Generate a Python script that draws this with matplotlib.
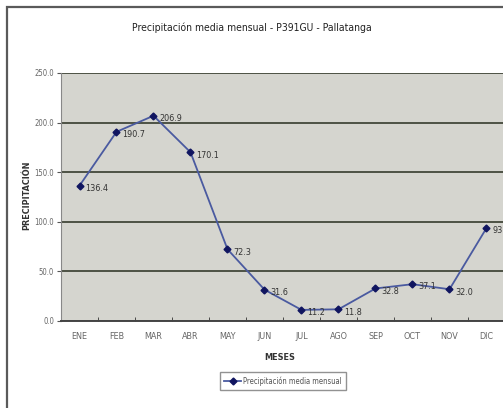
import matplotlib
matplotlib.use("Agg")
import matplotlib.pyplot as plt
from matplotlib.patches import Rectangle
from matplotlib.lines import Line2D

months = ["ENE", "FEB", "MAR", "ABR", "MAY", "JUN", "JUL", "AGO", "SEP", "OCT", "NOV", "DIC"]
precip = [136.4, 190.7, 206.9, 170.1, 72.3, 31.6, 11.2, 11.8, 32.8, 37.1, 32.0, 93.7]
yticks = [0, 50, 100, 150, 200, 250]
title = "Precipitación media mensual - P391GU - Pallatanga"
series_name = "Precipitación media mensual"

plt.rcParams["font.family"] = ["DejaVu Sans"]
plt.rcParams["font.stretch"] = "condensed"

W, H = 503, 408
fig = plt.figure(figsize=(W / 100, H / 100), dpi=100)
fig.patch.set_facecolor("white")

# outer chart border (cropped on right and bottom)
fig.add_artist(Rectangle((7 / W, -0.05), 1.1, 1 - 7 / H + 0.05, transform=fig.transFigure,
                         fill=False, edgecolor="#5a5a5a", linewidth=1.6))

left, right, top, bottom = 61, 505, 73, 321
ax = fig.add_axes([left / W, 1 - bottom / H, (right - left) / W, (bottom - top) / H])
ax.set_facecolor("#d5d5cf")

x = list(range(len(months)))
ax.set_xlim(-0.5, len(months) - 0.5)
ax.set_ylim(0, 250)
ax.set_yticks(yticks)
ax.set_yticklabels([f"{v:.1f}" for v in yticks], fontsize=5.5, color="#666666")
ax.yaxis.grid(True, color="#4d5245", linewidth=1.4)
ax.set_axisbelow(True)

ax.set_xticks(x)
ax.set_xticklabels(months, fontsize=6.5, color="#666666")
ax.tick_params(axis="x", length=0, pad=8)
ax.set_xticks([i + 0.5 for i in range(len(months))], minor=True)
ax.tick_params(axis="x", which="minor", length=3, direction="in", color="#333333")
ax.tick_params(axis="y", length=3, color="#555555", pad=2)

for s in ["top", "right"]:
    ax.spines[s].set_visible(False)
ax.spines["left"].set_color("#888888")
ax.spines["bottom"].set_color("#444444")
ax.spines["bottom"].set_linewidth(1.4)

ax.plot(x, precip, color="#4a5aa0", linewidth=1.3, marker="D", markersize=3.5,
        markerfacecolor="#101560", markeredgecolor="#101560", clip_on=False, zorder=3)

for xi, v in zip(x, precip):
    ax.annotate(f"{v:.1f}", (xi, v), xytext=(4, -2), textcoords="offset points",
                fontsize=6.5, color="#333333", va="center", ha="left", annotation_clip=False)

fig.text(0.5, 1 - 28 / H, title, ha="center", va="center", fontsize=7.5, color="#222222")
fig.text(27 / W, 1 - 195 / H, "PRECIPITACIÓN", rotation=90, ha="center", va="center",
         fontsize=6.5, fontweight="bold", color="#333333")
fig.text(280 / W, 1 - 358 / H, "MESES", ha="center", va="center",
         fontsize=6.5, fontweight="bold", color="#333333")

handle = Line2D([], [], color="#4a5aa0", linewidth=1.3, marker="D", markersize=3.5,
                markerfacecolor="#101560", markeredgecolor="#101560")
leg = fig.legend([handle], [series_name], loc="center", bbox_to_anchor=(283 / W, 1 - 381 / H),
                 prop={"size": 5.5}, frameon=True, fancybox=False, edgecolor="#777777",
                 handlelength=2.2, handletextpad=0.3, borderpad=0.5)
for t in leg.get_texts():
    t.set_color("#555555")

fig.savefig("out.png", dpi=100)
